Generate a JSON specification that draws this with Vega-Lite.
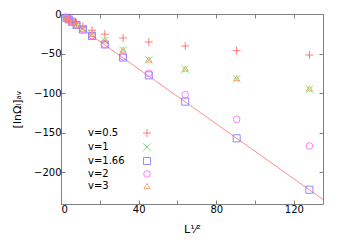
{
  "$schema": "https://vega.github.io/schema/vega-lite/v6.json",
  "width": 262,
  "height": 190,
  "autosize": {"type": "none"},
  "padding": {"left": 61, "top": 14, "right": 20, "bottom": 36},
  "config": {
    "view": {"stroke": "#808080", "strokeWidth": 1},
    "font": "DejaVu Sans",
    "axis": {"labelFont": "DejaVu Sans", "labelFontSize": 10, "labelColor": "#000", "titleFont": "DejaVu Sans", "titleFontSize": 10, "titleFontWeight": "normal", "titleColor": "#000", "grid": false, "domain": false, "tickColor": "#808080", "tickSize": -4},
    "legend": {"labelFont": "DejaVu Sans", "labelFontSize": 10, "labelColor": "#000"}
  },
  "datasets": {
    "pts": [
      {"v": "v=0.5", "x": 2.83, "y": -4.5}, {"v": "v=0.5", "x": 4, "y": -6.2}, {"v": "v=0.5", "x": 5.66, "y": -8.5}, {"v": "v=0.5", "x": 8, "y": -11.5}, {"v": "v=0.5", "x": 11.3, "y": -15.5}, {"v": "v=0.5", "x": 16, "y": -20.5}, {"v": "v=0.5", "x": 22.6, "y": -25.5}, {"v": "v=0.5", "x": 32, "y": -30.3}, {"v": "v=0.5", "x": 45.25, "y": -35.4}, {"v": "v=0.5", "x": 64, "y": -40.4}, {"v": "v=0.5", "x": 90.5, "y": -46.3}, {"v": "v=0.5", "x": 128, "y": -51.8},
      {"v": "v=1", "x": 2.83, "y": -4.8}, {"v": "v=1", "x": 4, "y": -6.8}, {"v": "v=1", "x": 5.66, "y": -9.6}, {"v": "v=1", "x": 8, "y": -13.5}, {"v": "v=1", "x": 11.3, "y": -18.8}, {"v": "v=1", "x": 16, "y": -25.5}, {"v": "v=1", "x": 22.6, "y": -33.7}, {"v": "v=1", "x": 32, "y": -45.5}, {"v": "v=1", "x": 45.25, "y": -58}, {"v": "v=1", "x": 64, "y": -69.8}, {"v": "v=1", "x": 90.5, "y": -82}, {"v": "v=1", "x": 128, "y": -95},
      {"v": "v=1.66", "x": 2.83, "y": -4.9}, {"v": "v=1.66", "x": 4, "y": -6.9}, {"v": "v=1.66", "x": 5.66, "y": -9.8}, {"v": "v=1.66", "x": 8, "y": -13.9}, {"v": "v=1.66", "x": 11.3, "y": -19.6}, {"v": "v=1.66", "x": 16, "y": -27.8}, {"v": "v=1.66", "x": 22.6, "y": -38.5}, {"v": "v=1.66", "x": 32, "y": -55}, {"v": "v=1.66", "x": 45.25, "y": -77.5}, {"v": "v=1.66", "x": 64, "y": -110.7}, {"v": "v=1.66", "x": 90.5, "y": -157}, {"v": "v=1.66", "x": 128, "y": -222},
      {"v": "v=2", "x": 2.83, "y": -4.9}, {"v": "v=2", "x": 4, "y": -6.9}, {"v": "v=2", "x": 5.66, "y": -9.8}, {"v": "v=2", "x": 8, "y": -13.9}, {"v": "v=2", "x": 11.3, "y": -19.5}, {"v": "v=2", "x": 16, "y": -27.5}, {"v": "v=2", "x": 22.6, "y": -38.5}, {"v": "v=2", "x": 32, "y": -54}, {"v": "v=2", "x": 45.25, "y": -75}, {"v": "v=2", "x": 64, "y": -102}, {"v": "v=2", "x": 90.5, "y": -133}, {"v": "v=2", "x": 128, "y": -166.7},
      {"v": "v=3", "x": 2.83, "y": -4.8}, {"v": "v=3", "x": 4, "y": -6.8}, {"v": "v=3", "x": 5.66, "y": -9.6}, {"v": "v=3", "x": 8, "y": -13.4}, {"v": "v=3", "x": 11.3, "y": -18.6}, {"v": "v=3", "x": 16, "y": -25.2}, {"v": "v=3", "x": 22.6, "y": -33.3}, {"v": "v=3", "x": 32, "y": -45}, {"v": "v=3", "x": 45.25, "y": -57.5}, {"v": "v=3", "x": 64, "y": -69}, {"v": "v=3", "x": 90.5, "y": -81}, {"v": "v=3", "x": 128, "y": -94}
    ],
    "fit": [{"x": 0, "y": 0}, {"x": 135, "y": -234.2}]
  },
  "layer": [
    {
      "data": {"name": "fit"},
      "mark": {"type": "line", "color": "#ff7070", "strokeWidth": 0.8, "clip": true},
      "encoding": {
        "x": {"field": "x", "type": "quantitative", "scale": {"domain": [0, 135], "nice": false, "zero": false},
          "axis": {"title": "L¹⁄²", "titleFontSize": 11, "titlePadding": 9, "values": [0, 20, 40, 60, 80, 100, 120], "labelExpr": "datum.value % 40 == 0 ? datum.label : ''", "labelPadding": 4}},
        "y": {"field": "y", "type": "quantitative", "scale": {"domain": [-240, 0], "nice": false, "zero": false},
          "axis": {"title": "[lnΩₗ]ₐᵥ", "titleFontSize": 11, "titlePadding": 11, "values": [0, -50, -100, -150, -200], "labelPadding": 4}}
      }
    },
    {
      "data": {"name": "pts"},
      "mark": {"type": "point", "filled": false, "strokeWidth": 0.8, "opacity": 1},
      "encoding": {
        "x": {"field": "x", "type": "quantitative", "axis": {"orient": "top", "labels": false, "title": null, "values": [0, 20, 40, 60, 80, 100, 120]}},
        "y": {"field": "y", "type": "quantitative", "axis": {"orient": "right", "labels": false, "title": null, "values": [0, -50, -100, -150, -200]}},
        "shape": {"field": "v", "type": "nominal",
          "scale": {"domain": ["v=0.5", "v=1", "v=1.66", "v=2", "v=3"], "range": ["M-1,0L1,0M0,-1L0,1", "M-1,-1L1,1M1,-1L-1,1", "square", "circle", "triangle-up"]},
          "legend": {"orient": "none", "legendX": 81, "legendY": 114, "title": null, "labelOffset": -64, "rowPadding": 2, "padding": 0, "symbolStrokeWidth": 0.8}},
        "color": {"field": "v", "type": "nominal",
          "scale": {"domain": ["v=0.5", "v=1", "v=1.66", "v=2", "v=3"], "range": ["#ff5c5c", "#5ce65c", "#7070ff", "#ff5cff", "#ff8c5c"]},
          "legend": {"orient": "none", "legendX": 81, "legendY": 114, "title": null, "labelOffset": -64, "rowPadding": 2, "padding": 0, "symbolStrokeWidth": 0.8}},
        "size": {"field": "v", "type": "nominal",
          "scale": {"domain": ["v=0.5", "v=1", "v=1.66", "v=2", "v=3"], "range": [64, 36, 49, 49, 42]},
          "legend": {"orient": "none", "legendX": 81, "legendY": 114, "title": null, "labelOffset": -64, "rowPadding": 2, "padding": 0, "symbolStrokeWidth": 0.8}}
      }
    }
  ],
  "resolve": {"axis": {"x": "independent", "y": "independent"}}
}
